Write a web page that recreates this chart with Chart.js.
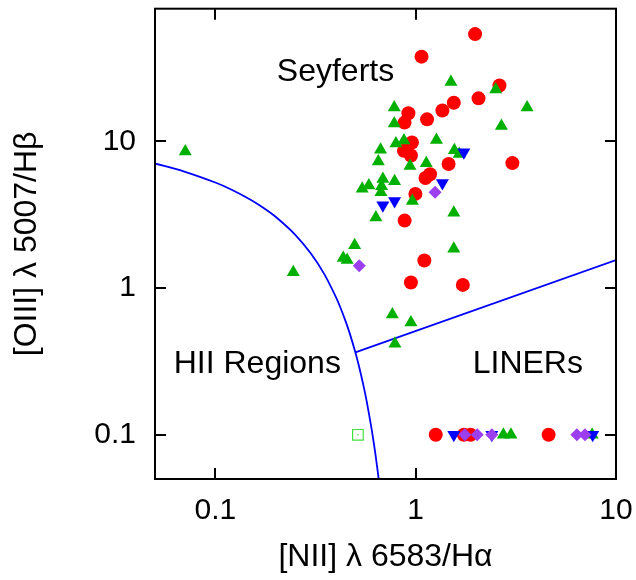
<!DOCTYPE html>
<html>
<head>
<meta charset="utf-8">
<script src="https://cdn.jsdelivr.net/npm/chart.js@4/dist/chart.umd.min.js"></script>
<style>
  html, body { margin: 0; padding: 0; background: #fff; }
  #wrap { width: 636px; height: 580px; }
</style>
</head>
<body>
<div id="wrap"><canvas id="bpt"></canvas></div>
<script>
// Seyferts (red circles)
const redX = [1.98, 1.07, 2.62, 2.06, 1.55, 1.36, 0.92, 0.88, 1.14, 0.958, 0.874, 0.947, 1.46, 3.04, 1.18, 1.12, 0.997, 0.881, 1.105, 0.947, 1.72, 1.26, 1.74, 1.88, 4.61];
const redY = [53.7, 37.7, 24.0, 19.6, 18.3, 16.2, 15.5, 13.4, 14.1, 9.8, 8.6, 8.0, 7.0, 7.1, 5.96, 5.62, 4.38, 2.88, 1.54, 1.09, 1.05, 0.1, 0.1, 0.1, 0.1];

// green triangles
const greenX = [0.0708, 0.245, 1.50, 2.51, 3.60, 0.782, 0.782, 2.68, 0.874, 0.797, 1.27, 0.668, 1.56, 1.65, 0.651, 0.937, 1.13, 0.686, 0.785, 0.584, 0.541, 0.676, 0.671, 0.963, 1.55, 0.633, 0.496, 0.435, 0.455, 1.55, 0.765, 0.947, 0.788, 2.74, 2.99, 7.6];
const greenY = [8.52, 1.28, 25.3, 22.5, 17.0, 17.0, 13.2, 12.7, 10.1, 9.65, 10.2, 8.74, 8.7, 8.2, 7.29, 6.78, 7.07, 5.54, 5.35, 4.99, 4.74, 4.94, 4.50, 3.91, 3.26, 3.02, 1.96, 1.60, 1.55, 1.85, 0.66, 0.583, 0.418, 0.1, 0.1, 0.1];

// blue down triangles
const blueX = [1.74, 1.36, 0.686, 0.785, 1.55, 2.40, 7.65];
const blueY = [8.43, 5.2, 3.66, 3.91, 0.1, 0.1, 0.1];

// purple diamonds
const purpleX = [1.25, 0.523, 1.76, 2.03, 2.40, 6.38, 7.0];
const purpleY = [4.5, 1.42, 0.1, 0.1, 0.1, 0.1, 0.1];

// open square
const openX = [0.515];
const openY = [0.1];

// Kauffmann et al. (2003) boundary
const kaufX = [0.05, 0.07, 0.1, 0.12, 0.15, 0.175, 0.2, 0.25, 0.3, 0.35, 0.4, 0.42, 0.45, 0.47, 0.5, 0.52, 0.55, 0.57, 0.6, 0.62, 0.63, 0.65, 0.655];
const kaufY = [7.056, 6.219, 5.236, 4.695, 3.999, 3.500, 3.059, 2.315, 1.718, 1.243, 0.8673, 0.7423, 0.5789, 0.4852, 0.3650, 0.2976, 0.2138, 0.1683, 0.1138, 0.0855, 0.0735, 0.0533, 0.0490];

// Seyfert / LINER dividing line
const linerX = [0.5, 10];
const linerY = [0.365, 1.55];

// axes
const xTicks = [0.05, 0.06, 0.07, 0.08, 0.09, 0.1, 0.2, 0.3, 0.4, 0.5, 0.6, 0.7, 0.8, 0.9, 1, 2, 3, 4, 5, 6, 7, 8, 9, 10];
const xMajor = [0.1, 1, 10];
const yTicks = [0.05, 0.06, 0.07, 0.08, 0.09, 0.1, 0.2, 0.3, 0.4, 0.5, 0.6, 0.7, 0.8, 0.9, 1, 2, 3, 4, 5, 6, 7, 8, 9, 10, 20, 30, 40, 50, 60, 70, 80];
const yMajor = [0.1, 1, 10];

// region labels
const regionNames = ['Seyferts', 'HII Regions', 'LINERs'];
const regionX = [0.398, 0.162, 3.63];
const regionY = [29.7, 0.302, 0.302];

const pts = (xs, ys) => xs.map((v, i) => ({x: v, y: ys[i]}));

const FONT = '"Liberation Sans", Arial, sans-serif';
Chart.defaults.font.family = FONT;
Chart.defaults.color = '#000';

// inward ticks on all four sides, frame and region labels
const frameTicks = {
    id: 'frameTicks',
    afterDatasetsDraw(chart) {
        const {ctx, chartArea: a, scales: {x, y}} = chart;
        ctx.save();
        ctx.strokeStyle = '#000';
        ctx.lineWidth = 2;
        ctx.beginPath();
        x.ticks.forEach(t => {
            const px = Math.round(x.getPixelForValue(t.value));
            const len = xMajor.includes(t.value) ? 11 : 5;
            ctx.moveTo(px, a.bottom); ctx.lineTo(px, a.bottom - len);
            ctx.moveTo(px, a.top); ctx.lineTo(px, a.top + len);
        });
        y.ticks.forEach(t => {
            const py = Math.round(y.getPixelForValue(t.value));
            const len = yMajor.includes(t.value) ? 11 : 5;
            ctx.moveTo(a.left, py); ctx.lineTo(a.left + len, py);
            ctx.moveTo(a.right, py); ctx.lineTo(a.right - len, py);
        });
        ctx.stroke();
        ctx.strokeRect(a.left, a.top, a.right - a.left, a.bottom - a.top);

        ctx.fillStyle = '#000';
        ctx.font = '32px ' + FONT;
        ctx.textAlign = 'center';
        ctx.textBaseline = 'middle';
        regionNames.forEach((n, i) => {
            ctx.fillText(n, x.getPixelForValue(regionX[i]), y.getPixelForValue(regionY[i]));
        });
        ctx.restore();
    }
};

new Chart(document.getElementById('bpt'), {
    type: 'scatter',
    data: {
        datasets: [
            {data: pts(purpleX, purpleY), pointStyle: 'rectRot', pointRadius: 6.5, backgroundColor: '#9b3ff0', borderColor: '#9b3ff0', borderWidth: 0, order: 1},
            {data: pts(blueX, blueY), pointStyle: 'triangle', rotation: 180, pointRadius: 7.5, backgroundColor: '#0000ff', borderColor: '#0000ff', borderWidth: 0, order: 2},
            {data: pts(greenX, greenY), pointStyle: 'triangle', pointRadius: 7.5, backgroundColor: '#00b000', borderColor: '#00b000', borderWidth: 0, order: 3},
            {data: pts(redX, redY), pointStyle: 'circle', pointRadius: 7, backgroundColor: '#ff0000', borderColor: '#ff0000', borderWidth: 0, order: 4},
            {data: pts(openX, openY), pointStyle: 'rect', pointRadius: 7.5, backgroundColor: 'rgba(0,0,0,0)', borderColor: '#40e040', borderWidth: 1.2, order: 5},
            {data: pts(openX, openY), pointStyle: 'circle', pointRadius: 0.8, backgroundColor: '#40e040', borderWidth: 0, order: 5},
            {data: pts(kaufX, kaufY), showLine: true, pointRadius: 0, borderColor: '#0000ff', borderWidth: 1.8, tension: 0.3, order: 6},
            {data: pts(linerX, linerY), showLine: true, pointRadius: 0, borderColor: '#0000ff', borderWidth: 1.8, order: 6}
        ]
    },
    options: {
        responsive: true,
        maintainAspectRatio: false,
        animation: false,
        layout: {padding: {left: 8, right: 20, top: 5, bottom: 4}},
        plugins: {legend: {display: false}, tooltip: {enabled: false}},
        scales: {
            x: {
                type: 'logarithmic',
                min: 0.05,
                max: 10,
                grid: {display: false, drawTicks: false},
                border: {display: false},
                afterBuildTicks: s => { s.ticks = xTicks.map(v => ({value: v})); },
                afterFit: s => { s.height = 97; s.paddingLeft = 0; s.paddingRight = 0; },
                ticks: {
                    autoSkip: false, maxRotation: 0, padding: 14,
                    font: {size: 30},
                    callback: v => xMajor.includes(v) ? String(v) : null
                },
                title: {display: true, text: '[NII] \u03bb 6583/H\u03b1', font: {size: 32}, padding: 0}
            },
            y: {
                type: 'logarithmic',
                min: 0.05,
                max: 80,
                grid: {display: false, drawTicks: false},
                border: {display: false},
                afterBuildTicks: s => { s.ticks = yTicks.map(v => ({value: v})); },
                afterFit: s => { s.width = 147; s.paddingTop = 0; s.paddingBottom = 0; },
                ticks: {
                    autoSkip: false, padding: 19,
                    font: {size: 30},
                    callback: v => yMajor.includes(v) ? String(v) : null
                },
                title: {display: true, text: '[OIII] \u03bb 5007/H\u03b2', font: {size: 32}, padding: 0}
            }
        }
    },
    plugins: [frameTicks]
});
</script>
</body>
</html>
